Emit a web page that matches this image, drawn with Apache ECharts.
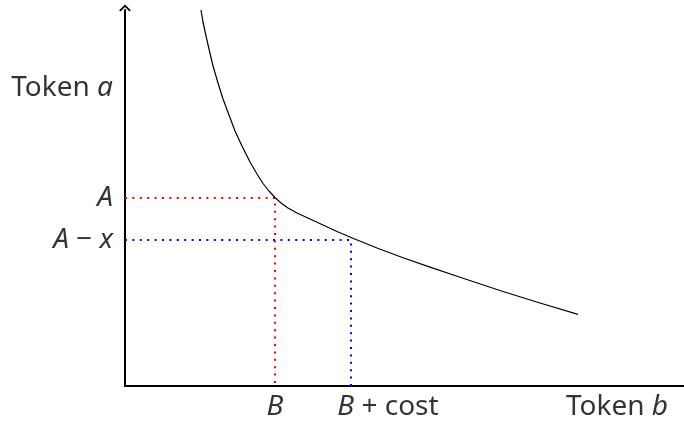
<!DOCTYPE html>
<html>
<head>
<meta charset="utf-8">
<script src="https://cdn.jsdelivr.net/npm/echarts@6/dist/echarts.min.js"></script>
<style>
  html, body { margin: 0; padding: 0; background: #fff; }
  #chart { width: 684px; height: 424px; }
</style>
</head>
<body>
<div id="chart"></div>
<script>
'use strict'

// curve (token b, token a)
const curveB = [76, 78, 81, 84, 88, 93, 98, 104, 110, 117, 125, 132, 138, 144, 150, 156, 163, 172, 185, 198, 212, 226, 252, 278, 305, 338, 378, 415, 453];
const curveA = [376, 364, 350, 337, 320, 303, 287, 271, 255, 240, 224, 212, 202.5, 195, 188.5, 183, 178, 173, 167, 161, 154.5, 148.5, 138, 128.3, 118.9, 107.7, 94.5, 83, 71.6];

// marked levels
const levelA = 188;
const levelAminusX = 146;
const posB = 150;
const posBcost = 226;

const yLabels = ['{i|A}', '{i|A}{n| − }{i|x}'];
const xLabels = ['{i|B}', '{i|B}{n| + cost}'];
const axisNames = ['{n|Token }{i|a}', '{n|Token }{i|b}'];

const FONT = 'Noto Sans';
const FONT_SIZE = 28;
const rich = {
  n: {fontFamily: FONT, fontSize: FONT_SIZE, color: '#000', lineHeight: 30},
  i: {fontFamily: FONT, fontStyle: 'italic', fontSize: FONT_SIZE, color: '#000', lineHeight: 30}
};

function labelPoint(x, y, text, position, offset) {
  return {
    value: [x, y],
    label: {
      show: true,
      formatter: text,
      position: position,
      distance: position === 'left' ? 12 : 6,
      offset: offset || [0, 0],
      color: '#000',
      fontFamily: FONT,
      fontSize: FONT_SIZE,
      rich: rich
    }
  };
}

const chart = echarts.init(document.getElementById('chart'), null, {renderer: 'canvas'});

const arrowPath = 'path://M0,6 L6,0 L12,6 L10.6,7.2 L6,2.6 L1.4,7.2 Z';

chart.setOption({
  animation: false,
  backgroundColor: '#fff',
  grid: {left: 125, right: 0, top: 10, bottom: 38},
  xAxis: {
    type: 'value',
    min: 0,
    max: 559,
    axisLine: {show: true, onZero: false, lineStyle: {color: '#000', width: 2}},
    axisTick: {show: false},
    axisLabel: {show: false},
    splitLine: {show: false}
  },
  yAxis: {
    type: 'value',
    min: 0,
    max: 376,
    axisLine: {
      show: true,
      onZero: false,
      lineStyle: {color: '#000', width: 2},
      symbol: ['none', arrowPath],
      symbolSize: [12, 7],
      symbolOffset: [0, 2]
    },
    axisTick: {show: false},
    axisLabel: {show: false},
    splitLine: {show: false}
  },
  series: [
    {
      type: 'line',
      data: [[0, levelA], [posB, levelA], [posB, 0]],
      symbol: 'none',
      lineStyle: {color: '#ff0000', width: 2, type: [2, 5.4]},
      z: 1
    },
    {
      type: 'line',
      data: [[0, levelAminusX], [posBcost, levelAminusX], [posBcost, 0]],
      symbol: 'none',
      lineStyle: {color: '#0000ff', width: 2, type: [2, 5.4]},
      z: 1
    },
    {
      type: 'line',
      data: curveB.map((b, i) => [b, curveA[i]]),
      symbol: 'none',
      smooth: false,
      clip: false,
      lineStyle: {color: '#000', width: 1.2, join: 'round'},
      z: 3
    },
    {
      type: 'scatter',
      symbolSize: 0,
      silent: true,
      clip: false,
      data: [
        labelPoint(0, 298, axisNames[0], 'left'),
        labelPoint(0, levelA, yLabels[0], 'left'),
        labelPoint(0, levelAminusX, yLabels[1], 'left'),
        labelPoint(posB, 0, xLabels[0], 'bottom'),
        labelPoint(posBcost, 0, xLabels[1], 'bottom', [37, 0]),
        labelPoint(492, 0, axisNames[1], 'bottom')
      ]
    }
  ]
});
</script>
</body>
</html>
